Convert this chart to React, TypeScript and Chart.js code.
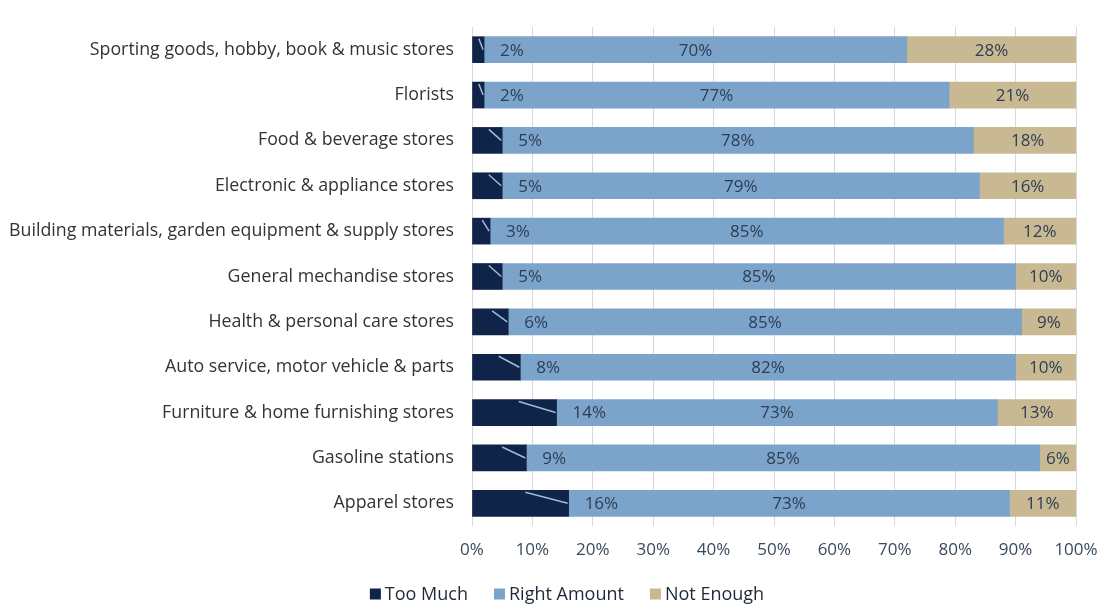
import React, { useEffect, useRef } from "react";
import { Chart, registerables } from "chart.js";

Chart.register(...registerables);

const categories = [
  "Sporting goods, hobby, book & music stores",
  "Florists",
  "Food & beverage stores",
  "Electronic & appliance stores",
  "Building materials, garden equipment & supply stores",
  "General mechandise stores",
  "Health & personal care stores",
  "Auto service, motor vehicle & parts",
  "Furniture & home furnishing stores",
  "Gasoline stations",
  "Apparel stores",
];

const tooMuch = [2, 2, 5, 5, 3, 5, 6, 8, 14, 9, 16];
const rightAmount = [70, 77, 78, 79, 85, 85, 85, 82, 73, 85, 73];
const notEnough = [28, 21, 18, 16, 12, 10, 9, 10, 13, 6, 11];

const seriesNames = ["Too Much", "Right Amount", "Not Enough"];
const seriesColors = ["#10244a", "#7ca3c9", "#c9b993"];

const FONT = "'Open Sans', sans-serif";

const labelPlugin = {
  id: "barLabels",
  afterDatasetsDraw(chart: any) {
    const ctx = chart.ctx;
    ctx.save();
    ctx.font = `17px ${FONT}`;
    ctx.textBaseline = "middle";
    chart.data.datasets.forEach((ds: any, di: number) => {
      const meta = chart.getDatasetMeta(di);
      meta.data.forEach((bar: any, i: number) => {
        const v = ds.data[i];
        const { x, y, base, height } = bar.getProps(["x", "y", "base", "height"], true);
        const txt = `${v}%`;
        if (di === 0) {
          const w = x - base;
          const top = y - height / 2;
          ctx.strokeStyle = "#9fbbd6";
          ctx.lineWidth = 1.5;
          ctx.beginPath();
          ctx.moveTo(x - Math.max(5, w * 0.45), top + 2);
          ctx.lineTo(x - 1, y);
          ctx.stroke();
          ctx.fillStyle = "#2c3e55";
          ctx.textAlign = "left";
          ctx.fillText(txt, x + 16, y + 1);
        } else {
          ctx.fillStyle = "#2c3e55";
          ctx.textAlign = "center";
          ctx.fillText(txt, (x + base) / 2, y + 1);
        }
      });
    });
    ctx.restore();
  },
};

const legendPlugin = {
  id: "customLegend",
  afterDraw(chart: any) {
    const ctx = chart.ctx;
    ctx.save();
    ctx.font = `18px ${FONT}`;
    ctx.textBaseline = "middle";
    ctx.textAlign = "left";
    const box = 11;
    const gap = 4;
    const itemGap = 26;
    const widths = seriesNames.map((n) => box + gap + ctx.measureText(n).width);
    const total = widths.reduce((a, b) => a + b, 0) + itemGap * (widths.length - 1);
    let x = 567 - total / 2;
    const y = 594;
    seriesNames.forEach((n, i) => {
      ctx.fillStyle = seriesColors[i];
      ctx.fillRect(x, y - box / 2, box, box);
      ctx.fillStyle = "#1f2a38";
      ctx.fillText(n, x + box + gap, y + 1);
      x += widths[i] + itemGap;
    });
    ctx.restore();
  },
};

export default function App() {
  const ref = useRef<HTMLCanvasElement | null>(null);
  useEffect(() => {
    document.body.style.margin = "0";
    const chart = new Chart(ref.current as HTMLCanvasElement, {
      type: "bar",
      data: {
        labels: categories,
        datasets: [tooMuch, rightAmount, notEnough].map((d, i) => ({
          label: seriesNames[i],
          data: d,
          backgroundColor: seriesColors[i],
          borderWidth: 0,
          barThickness: 26,
        })),
      },
      options: {
        indexAxis: "y",
        animation: false,
        responsive: false,
        maintainAspectRatio: false,
        layout: { padding: { top: 27, right: 29, left: 0, bottom: 0 } },
        plugins: {
          legend: { display: false },
          tooltip: { enabled: false },
        },
        scales: {
          x: {
            stacked: true,
            min: 0,
            max: 100,
            border: { display: false },
            grid: { color: "#d6d9de", drawTicks: false, lineWidth: 1 },
            ticks: {
              stepSize: 10,
              padding: 14,
              color: "#3a4a5c",
              font: { family: FONT, size: 17 },
              callback: (v: any) => `${v}%`,
            },
            afterFit: (s: any) => {
              s.height = 81;
              s.paddingLeft = 0;
              s.paddingRight = 0;
            },
          },
          y: {
            stacked: true,
            border: { display: false },
            grid: { display: false },
            ticks: {
              padding: 10,
              color: "#333",
              font: { family: FONT, size: 17.8 },
              autoSkip: false,
            },
            afterFit: (s: any) => {
              s.width = 472;
              s.paddingTop = 0;
              s.paddingBottom = 0;
            },
          },
        },
      },
      plugins: [labelPlugin, legendPlugin],
    });
    return () => chart.destroy();
  }, []);
  return (
    <div style={{ position: "absolute", left: 0, top: 0, width: 1105, height: 607, background: "#fff" }}>
      <canvas ref={ref} width={1105} height={607} style={{ width: 1105, height: 607 }} />
    </div>
  );
}
